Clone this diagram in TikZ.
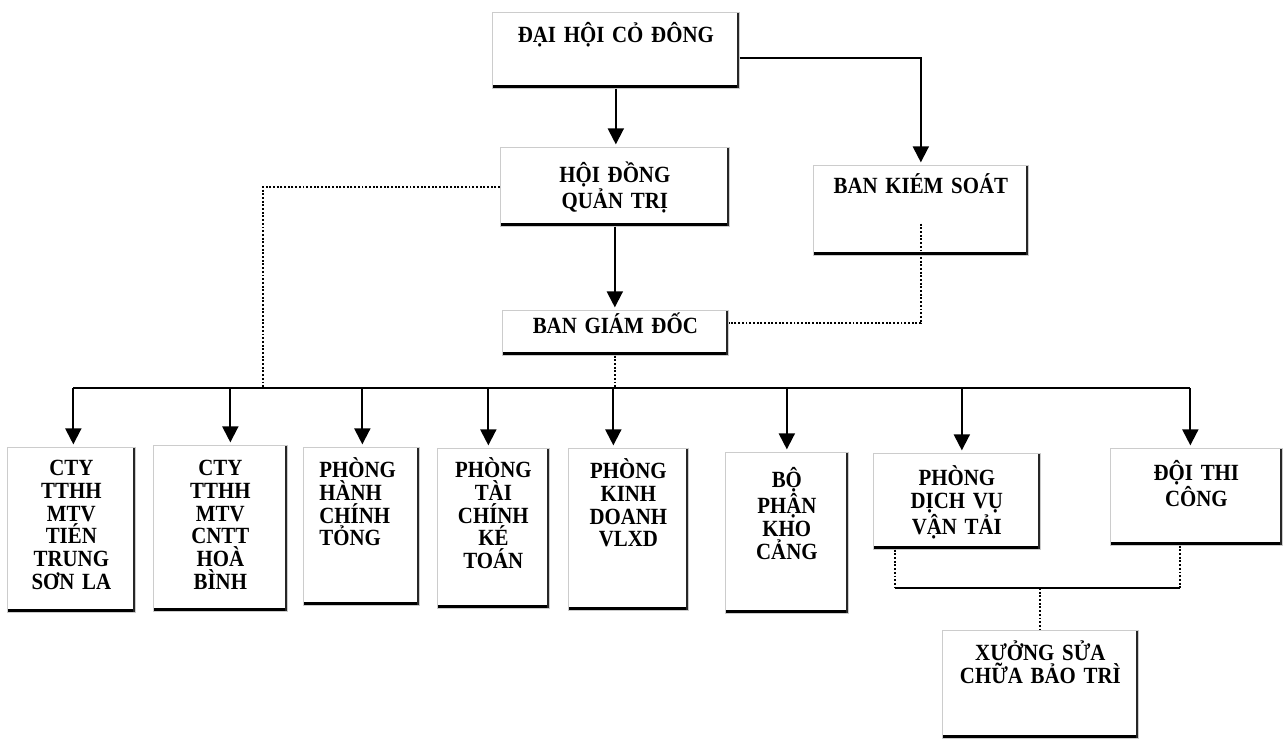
\documentclass[tikz,border=0pt]{standalone}
\usepackage{fontspec}
\newfontfamily\unitfont{Liberation Serif}[FakeStretch=0.9, WordSpace=0.7]
\usetikzlibrary{arrows.meta,calc}

\tikzset{
  unit/.style={draw=gray!40, fill=white, anchor=north west, inner sep=0pt, align=center,
    font=\unitfont\bfseries\fontsize{13.2}{13}\selectfont,
    path picture={
      \draw[black, line width=4pt] (path picture bounding box.south west) -- (path picture bounding box.south east);
      \draw[black!85, line width=2.4pt] (path picture bounding box.south east) -- (path picture bounding box.north east);}},
  unit size/.style n args={3}{text width=#1, text height=#2, text depth=#3},
  link/.style={line width=1.1pt, shorten >=1.5pt, -{Triangle[length=0.32cm,width=0.32cm]}},
  rail/.style={line width=1.2pt},
  dotlink/.style={line width=1.1pt, densely dotted}
}

\begin{document}
\begin{tikzpicture}[x=0.02cm, y=0.02cm]
\useasboundingbox (0,0) rectangle (1287,-740);

% upper levels
\node[unit, unit size={4.94cm}{0.60cm}{0.92cm}] (dhcd) at (492,-12) {ĐẠI HỘI CỎ ĐÔNG};
\node[unit, unit size={4.58cm}{0.70cm}{0.88cm}] (hdqt) at (500,-147) {HỘI ĐỒNG\\QUẢN TRỊ};
\node[unit, unit size={4.30cm}{0.56cm}{1.24cm}] (bks) at (813,-165) {BAN KIÉM SOÁT};
\node[unit, unit size={4.52cm}{0.46cm}{0.44cm}] (bgd) at (502,-310) {BAN GIÁM ĐỐC};

% units
\node[unit, unit size={2.56cm}{0.56cm}{2.74cm}] (ct1) at (7,-447) {CTY\\TTHH\\MTV\\TIÉN\\TRUNG\\SƠN LA};
\node[unit, unit size={2.68cm}{0.60cm}{2.72cm}] (ct2) at (153,-445) {CTY\\TTHH\\MTV\\CNTT\\HOÀ\\BÌNH};
\node[unit, unit size={2.32cm}{0.60cm}{2.56cm}, text width=1.68cm, inner xsep=0.32cm, align=left] (phc) at (303,-447) {PHÒNG\\HÀNH\\CHÍNH\\TỎNG};
\node[unit, unit size={2.24cm}{0.58cm}{2.62cm}] (ptc) at (437,-448) {PHÒNG\\TÀI\\CHÍNH\\KÉ\\TOÁN};
\node[unit, unit size={2.40cm}{0.60cm}{2.64cm}] (pkd) at (568,-448) {PHÒNG\\KINH\\DOANH\\VLXD};
\node[unit, unit size={2.46cm}{0.70cm}{2.52cm}] (bpk) at (725,-452) {BỘ\\PHẬN\\KHO\\CẢNG};
\node[unit, unit size={3.34cm}{0.64cm}{1.28cm}] (pdv) at (873,-453) {PHÒNG\\DỊCH VỤ\\VẬN TẢI};
\node[unit, unit size={3.44cm}{0.64cm}{1.30cm}] (dtc) at (1110,-448) {ĐỘI THI\\CÔNG};
\node[unit, unit size={3.92cm}{0.60cm}{1.56cm}] (xsc) at (942,-630) {XƯỞNG SỬA\\CHỮA BẢO TRÌ};

% solid links
\draw[link] (dhcd.south) -- (dhcd.south |- hdqt.north);
\draw[link] ([yshift=-0.16cm]dhcd.east) -| (bks.north);
\draw[link] (hdqt.south) -- (hdqt.south |- bgd.north);

% bus to the units
\coordinate (bus) at (0,-388);
\foreach \n/\dx in {ct1/2, ct2/10, phc/1, ptc/-5, pkd/-15, bpk/0, pdv/5, dtc/-6}{
  \coordinate (\n-in) at ($(\n.north)+(\dx,0)$);
  \draw[link] (\n-in |- bus) -- (\n-in);
}
\draw[rail] (ct1-in |- bus) -- (dtc-in |- bus);

% dotted links
\coordinate (hdqt-drop) at (263,-388);
\draw[dotlink] (hdqt.west) -| (hdqt-drop);
\draw[dotlink] (bgd.south) -- (bgd.south |- bus);
\draw[dotlink] ([yshift=0.64cm]bks.south) |- ([yshift=0.19cm]bgd.east);

% workshop
\coordinate (pdv-foot) at ($(pdv.south west)+(22,0)$);
\coordinate (dtc-foot) at ($(dtc.south west)+(70,0)$);
\coordinate (tie) at (0,-588);
\draw[dotlink] (pdv-foot) -- (pdv-foot |- tie);
\draw[dotlink] (dtc-foot) -- (dtc-foot |- tie);
\draw[line width=1pt] (pdv-foot |- tie) -- (dtc-foot |- tie);
\draw[dotlink] (xsc.north |- tie) -- (xsc.north);
\end{tikzpicture}
\end{document}
